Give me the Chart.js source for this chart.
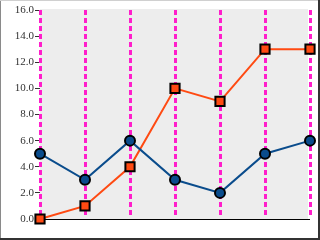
<!DOCTYPE html>
<html>
<head>
<meta charset="utf-8">
<script src="https://cdn.jsdelivr.net/npm/chart.js@4/dist/chart.umd.min.js"></script>
<style>
	body { margin: 0; background: #fff; }
	#wrap { width: 320px; height: 240px; position: relative; }
</style>
</head>
<body>
<div id="wrap"><canvas id="chart" width="320" height="240"></canvas></div>
<script>
var categories = ['1', '2', '3', '4', '5', '6', '7'];
var blueValues = [5, 3, 6, 3, 2, 5, 6];
var redValues = [0, 1, 4, 10, 9, 13, 13];
var yTicks = { min: 0, max: 16, step: 2 };

// gray plot background, dashed magenta grid from the x scale, frame round the picture
var bgPlugin = {
	id: 'bg',
	beforeDraw: function (chart) {
		var ctx = chart.ctx, a = chart.chartArea;
		ctx.save();
		ctx.fillStyle = '#ededed';
		ctx.fillRect(a.left, a.top - 1, a.right - a.left - 2, a.bottom - a.top + 1);
		ctx.restore();
	},
	beforeDatasetsDraw: function (chart) {
		var ctx = chart.ctx, a = chart.chartArea, xs = chart.scales.x;
		ctx.save();
		ctx.strokeStyle = '#ff1ecb';
		ctx.lineWidth = 3;
		ctx.setLineDash([5, 3]);
		for (var i = 0; i < xs.ticks.length; i++) {
			var x = Math.round(xs.getPixelForTick(i)) + 0.5;
			ctx.beginPath();
			ctx.moveTo(x, a.top);
			ctx.lineTo(x, a.bottom - 2);
			ctx.stroke();
		}
		ctx.restore();
	},
	afterDraw: function (chart) {
		var ctx = chart.ctx;
		ctx.save();
		ctx.fillStyle = '#8a8a8a';
		ctx.fillRect(0, 0, 1, 240);
		ctx.fillStyle = '#d0d0d0';
		ctx.fillRect(0, 0, 320, 1);
		ctx.fillStyle = '#333';
		ctx.fillRect(318, 0, 2, 240);
		ctx.fillRect(0, 238, 320, 2);
		ctx.restore();
	}
};

new Chart(document.getElementById('chart').getContext('2d'), {
	type: 'line',
	data: {
		labels: categories,
		datasets: [{
			data: blueValues,
			borderColor: '#0a4c8c',
			backgroundColor: '#0a4c8c',
			borderWidth: 2,
			pointStyle: 'circle',
			pointRadius: 5,
			pointBorderWidth: 2,
			pointBorderColor: '#000',
			pointBackgroundColor: '#0a4c8c',
			clip: false
		}, {
			data: redValues,
			borderColor: '#ff4a12',
			backgroundColor: '#ff4a12',
			borderWidth: 2,
			pointStyle: 'rect',
			pointRadius: 6.5,
			pointBorderWidth: 2,
			pointBorderColor: '#000',
			pointBackgroundColor: '#ff4a12',
			clip: false
		}]
	},
	options: {
		responsive: false,
		animation: false,
		layout: { padding: { top: 10, right: 10, left: 0, bottom: 0 } },
		plugins: { legend: { display: false }, tooltip: { enabled: false } },
		scales: {
			x: {
				offset: false,
				ticks: { display: false },
				grid: { display: false },
				border: { display: false },
				afterFit: function (scale) { scale.height = 21; }
			},
			y: {
				min: yTicks.min,
				max: yTicks.max,
				ticks: {
					stepSize: yTicks.step,
					padding: 1,
					color: '#333',
					font: { family: 'Liberation Serif', size: 11 },
					callback: function (v) { return v.toFixed(1); }
				},
				grid: {
					tickLength: 5,
					tickColor: '#333',
					lineWidth: 1,
					color: function (c) { return c.tick && c.tick.value === 0 ? '#000' : 'rgba(0,0,0,0)'; }
				},
				border: { display: false },
				afterFit: function (scale) { scale.width = 40; }
			}
		}
	},
	plugins: [bgPlugin]
});
</script>
</body>
</html>
